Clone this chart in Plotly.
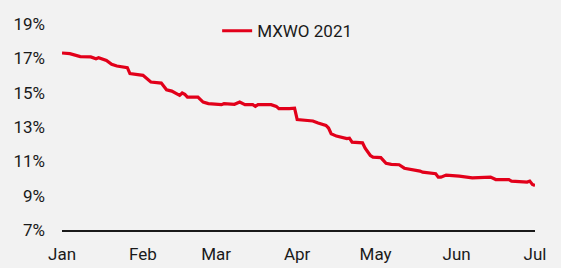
import plotly.graph_objects as go

dates = [
    "2021-01-01", "2021-01-04", "2021-01-08", "2021-01-12", "2021-01-14", "2021-01-15",
    "2021-01-18", "2021-01-20", "2021-01-22", "2021-01-26", "2021-01-27", "2021-02-01",
    "2021-02-04", "2021-02-08", "2021-02-10", "2021-02-12", "2021-02-15", "2021-02-16",
    "2021-02-17", "2021-02-18", "2021-02-22", "2021-02-24", "2021-02-26", "2021-03-03",
    "2021-03-04", "2021-03-08", "2021-03-10", "2021-03-12", "2021-03-15", "2021-03-16",
    "2021-03-17", "2021-03-22", "2021-03-24", "2021-03-25", "2021-03-29", "2021-03-30",
    "2021-03-31", "2021-04-01", "2021-04-05", "2021-04-07", "2021-04-09", "2021-04-12",
    "2021-04-13", "2021-04-14", "2021-04-16", "2021-04-20", "2021-04-21", "2021-04-22",
    "2021-04-26", "2021-04-27", "2021-04-29", "2021-04-30", "2021-05-03", "2021-05-04",
    "2021-05-05", "2021-05-07", "2021-05-10", "2021-05-12", "2021-05-14", "2021-05-18",
    "2021-05-19", "2021-05-24", "2021-05-25", "2021-05-26", "2021-05-28", "2021-05-31",
    "2021-06-02", "2021-06-07", "2021-06-10", "2021-06-14", "2021-06-16", "2021-06-21",
    "2021-06-22", "2021-06-25", "2021-06-28", "2021-06-29", "2021-06-30", "2021-07-01",
]
mxwo_2021 = [
    17.31, 17.27, 17.10, 17.08, 16.98, 17.04,
    16.88, 16.65, 16.55, 16.46, 16.11, 16.01,
    15.62, 15.56, 15.17, 15.09, 14.84, 14.98,
    14.90, 14.74, 14.74, 14.45, 14.36, 14.30,
    14.36, 14.32, 14.45, 14.30, 14.30, 14.20,
    14.30, 14.30, 14.20, 14.07, 14.07, 14.10,
    14.10, 13.43, 13.38, 13.35, 13.23, 13.09,
    12.94, 12.61, 12.47, 12.32, 12.35, 12.12,
    12.08, 11.77, 11.34, 11.24, 11.22, 11.05,
    10.88, 10.82, 10.80, 10.60, 10.55, 10.43,
    10.37, 10.28, 10.08, 10.08, 10.20, 10.18,
    10.14, 10.04, 10.04, 10.08, 9.94, 9.93,
    9.85, 9.83, 9.79, 9.85, 9.65, 9.59,
]
y_ticks = [7, 9, 11, 13, 15, 17, 19]
y_tick_labels = [f"{v}%" for v in y_ticks]

FONT = "Roboto, Arial, sans-serif"
BG = "#f2f2f2"

fig = go.Figure()
fig.add_trace(go.Scatter(
    x=dates, y=mxwo_2021, mode="lines", name="MXWO 2021",
    line=dict(color="#E2001A", width=3.2, shape="linear"),
))

fig.update_layout(
    width=561, height=268,
    margin=dict(l=62, r=26, t=24, b=38),
    paper_bgcolor=BG, plot_bgcolor=BG,
    font=dict(family=FONT, size=17, color="#1a1a1a"),
    showlegend=True,
    legend=dict(
        x=0.328, y=0.965, xanchor="left", yanchor="middle",
        orientation="h", bgcolor="rgba(0,0,0,0)",
        font=dict(family=FONT, size=17, color="#1a1a1a"),
    ),
    xaxis=dict(
        type="date", range=["2021-01-01", "2021-07-01"],
        dtick="M1", tick0="2021-01-01", tickformat="%b",
        showgrid=False, zeroline=False,
        showline=True, linecolor="#1a1a1a", linewidth=2,
        ticks="", ticklabelstandoff=8, automargin=False,
    ),
    yaxis=dict(
        range=[7, 19], tickvals=y_ticks, ticktext=y_tick_labels,
        showgrid=False, zeroline=False, showline=False,
        ticks="", ticklabelstandoff=16, automargin=False,
    ),
)

fig.write_html("out.html")
